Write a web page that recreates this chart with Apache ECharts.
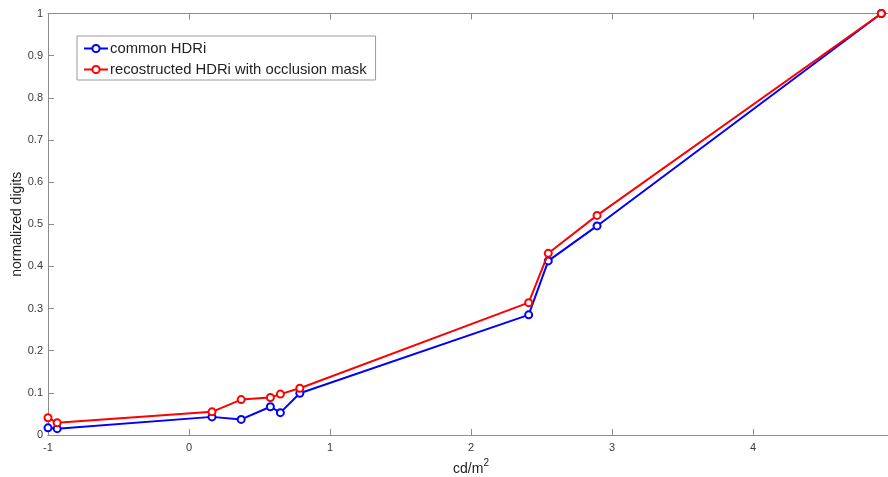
<!DOCTYPE html>
<html>
<head>
<meta charset="utf-8">
<script src="https://cdn.jsdelivr.net/npm/echarts@6/dist/echarts.min.js"></script>
<style>
html,body{margin:0;padding:0;background:#fff;}
#chart{width:888px;height:477px;}
</style>
</head>
<body>
<div id="chart"></div>
<script>
var luminance = [-1, -0.935, 0.163, 0.37, 0.577, 0.648, 0.786, 2.409, 2.548, 2.894, 4.91];
var commonHDRi = [0.017, 0.015, 0.043, 0.037, 0.067, 0.053, 0.099, 0.285, 0.413, 0.496, 1.0];
var reconstructedHDRi = [0.041, 0.029, 0.055, 0.084, 0.089, 0.097, 0.111, 0.314, 0.431, 0.521, 1.0];
var seriesNames = ['common HDRi', 'recostructed HDRi with occlusion mask'];
var xTicks = [-1, 0, 1, 2, 3, 4, 5];
var yTicks = [0, 0.1, 0.2, 0.3, 0.4, 0.5, 0.6, 0.7, 0.8, 0.9, 1];

function pairs(xs, ys) { return xs.map(function (x, i) { return [x, ys[i]]; }); }

var FONT = 'Liberation Sans, Arial, sans-serif';
var LINE = '#8c8c8c';
var TEXT = '#3a3a3a';

var chart = echarts.init(document.getElementById('chart'), null, {renderer: 'canvas'});
function axisCommon() {
  return {
    axisLine: {show: true, onZero: false, lineStyle: {color: LINE, width: 1}},
    axisTick: {show: true, inside: true, length: 6, lineStyle: {color: LINE}},
    splitLine: {show: false}
  };
}
chart.setOption({
  animation: false,
  backgroundColor: '#fff',
  grid: {left: 48, top: 13.5, width: 846, height: 421.5, containLabel: false, outerBoundsMode: 'none'},
  legend: {
    orient: 'vertical',
    left: 77, top: 36,
    padding: [5, 9, 3, 6],
    itemGap: 6,
    itemWidth: 24, itemHeight: 9,
    borderColor: '#9a9a9a', borderWidth: 1,
    backgroundColor: '#fff',
    textStyle: {fontFamily: FONT, fontSize: 14.8, color: '#222', padding: [0, 0, 0, -3]},
    data: seriesNames
  },
  xAxis: [
    Object.assign(axisCommon(), {
      type: 'value', position: 'bottom', min: xTicks[0], max: xTicks[xTicks.length - 1], interval: 1,
      name: '{b|cd/m}{s|2}', nameLocation: 'middle', nameGap: 22,
      nameTextStyle: {
        fontFamily: FONT, color: '#222',
        rich: {
          b: {fontFamily: FONT, fontSize: 14, color: '#222', verticalAlign: 'bottom', lineHeight: 18},
          s: {fontFamily: FONT, fontSize: 10, color: '#222', verticalAlign: 'top', lineHeight: 18, padding: [0, 0, 8, 0]}
        }
      },
      axisLabel: {fontFamily: FONT, fontSize: 11, color: TEXT, margin: 7}
    }),
    Object.assign(axisCommon(), {
      type: 'value', position: 'top', min: xTicks[0], max: xTicks[xTicks.length - 1], interval: 1,
      axisLabel: {show: false}
    })
  ],
  yAxis: [
    Object.assign(axisCommon(), {
      type: 'value', position: 'left', min: yTicks[0], max: yTicks[yTicks.length - 1], interval: 0.1,
      name: 'normalized digits', nameLocation: 'middle', nameGap: 24, nameMoveOverlap: false,
      nameTextStyle: {fontFamily: FONT, fontSize: 14, color: '#222'},
      axisLabel: {fontFamily: FONT, fontSize: 11, color: TEXT, margin: 5,
        formatter: function (v) { return String(Math.round(v * 10) / 10); }}
    }),
    Object.assign(axisCommon(), {
      type: 'value', position: 'right', min: yTicks[0], max: yTicks[yTicks.length - 1], interval: 0.1,
      axisLabel: {show: false}
    })
  ],
  series: [
    {
      name: seriesNames[0], type: 'line', xAxisIndex: 0, yAxisIndex: 0,
      data: pairs(luminance, commonHDRi),
      color: '#0000ff',
      lineStyle: {color: '#0000ff', width: 2},
      symbol: 'emptyCircle', symbolSize: 7,
      itemStyle: {color: '#0000ff', borderColor: '#0000ff', borderWidth: 2},
      z: 2
    },
    {
      name: seriesNames[1], type: 'line', xAxisIndex: 0, yAxisIndex: 0,
      data: pairs(luminance, reconstructedHDRi),
      color: '#ff0000',
      lineStyle: {color: '#ff0000', width: 2},
      symbol: 'emptyCircle', symbolSize: 7,
      itemStyle: {color: '#ff0000', borderColor: '#ff0000', borderWidth: 2},
      z: 3
    }
  ]
});
</script>
</body>
</html>
